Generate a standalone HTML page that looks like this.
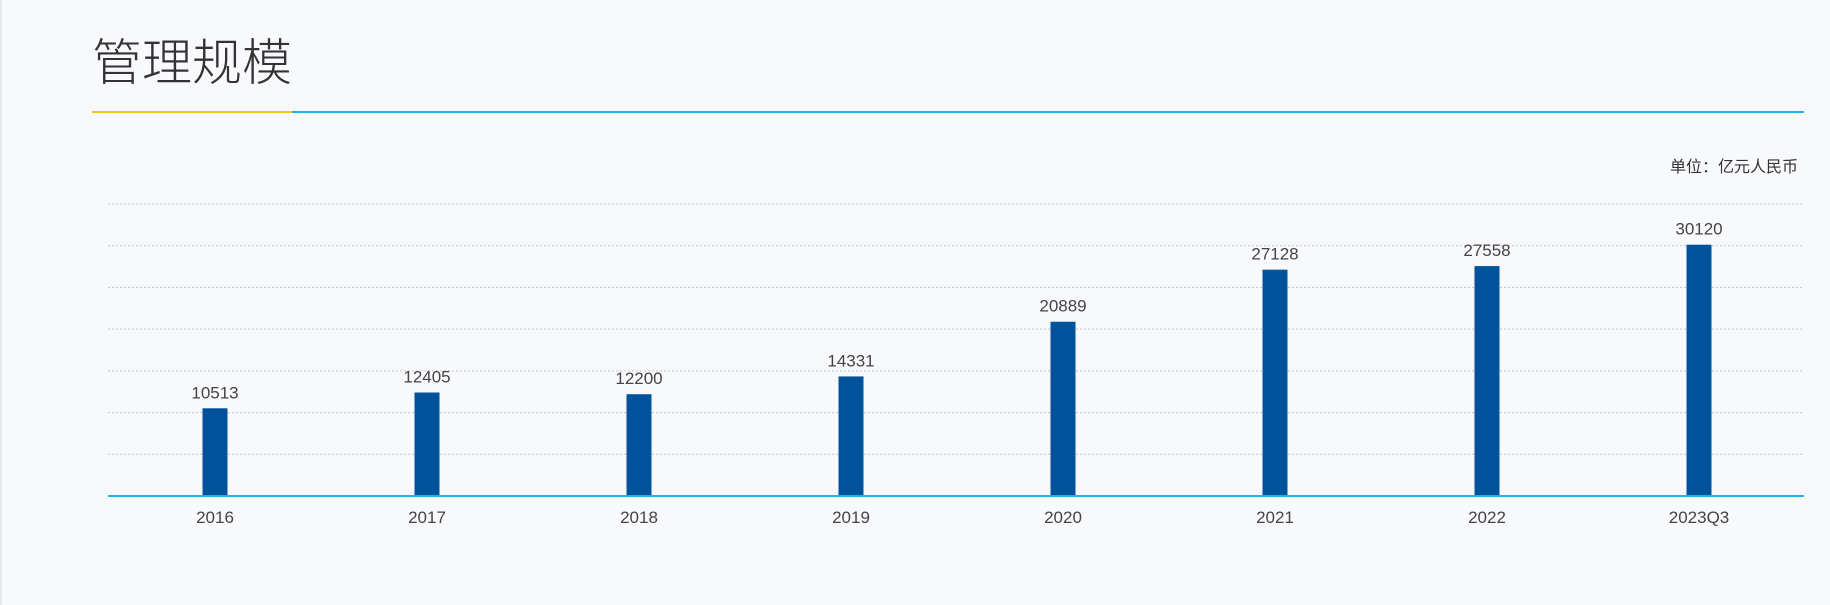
<!DOCTYPE html>
<html><head><meta charset="utf-8"><style>
html,body{margin:0;padding:0;background:#f8f9fd;}
body{width:1830px;height:605px;position:relative;overflow:hidden;font-family:"Liberation Sans","Noto Sans CJK SC",sans-serif;}
#edge{position:absolute;left:0;top:0;width:2px;height:605px;background:#e4e6ea;}
#title{position:absolute;left:92px;top:31px;font-size:50px;color:#333;font-weight:300;line-height:64px;}
#line-y{position:absolute;left:92px;top:111px;width:200px;height:2px;background:#f7c41e;}
#line-b{position:absolute;left:292px;top:111px;width:1512px;height:2px;background:#1fb5e0;}
#unit{position:absolute;right:32px;top:153px;font-size:16px;color:#333;}
</style></head><body>
<div id="edge"></div>
<div id="title">管理规模</div>
<div id="line-y"></div>
<div id="line-b"></div>
<div id="unit">单位：亿元人民币</div>
<svg id="chart" width="1830" height="605" style="position:absolute;left:0;top:0"></svg>
<script>
const categories=["2016","2017","2018","2019","2020","2021","2022","2023Q3"];
const values=[10513,12405,12200,14331,20889,27128,27558,30120];
const gridTicks=[5000,10000,15000,20000,25000,30000,35000];
const svg=document.getElementById('chart');
const NS='http://www.w3.org/2000/svg';
const x0=109,x1=1805,yBase=496,yTop=204,yMax=35000;
const band=(x1-x0)/categories.length;
function xs(i){return x0+band*(i+0.5);}
function ys(v){return yBase-(v/yMax)*(yBase-yTop);}
function mk(tag,attrs){const e=document.createElementNS(NS,tag);for(const k in attrs)e.setAttribute(k,attrs[k]);svg.appendChild(e);return e;}
gridTicks.forEach(t=>{
  const l=mk('line',{x1:108,x2:1804,y1:ys(t),y2:ys(t),stroke:'#c4c6cc','stroke-width':1,'stroke-dasharray':'2,2'});
  
  
});
values.forEach((v,i)=>{
  const w=25;
  const r=mk('rect',{x:xs(i)-w/2,y:ys(v),width:w,height:yBase-ys(v),fill:'#00529b'});
  
  
  const t=mk('text',{x:xs(i),y:ys(v)-10,'text-anchor':'middle','font-size':17,fill:'#444'});
  t.textContent=v;
  
  
  const c=mk('text',{x:xs(i),y:523,'text-anchor':'middle','font-size':17,fill:'#444'});
  c.textContent=categories[i];
  
  
});
const ax=mk('line',{x1:108,x2:1804,y1:yBase,y2:yBase,stroke:'#1fb5e0','stroke-width':2});


</script>
</body></html>
